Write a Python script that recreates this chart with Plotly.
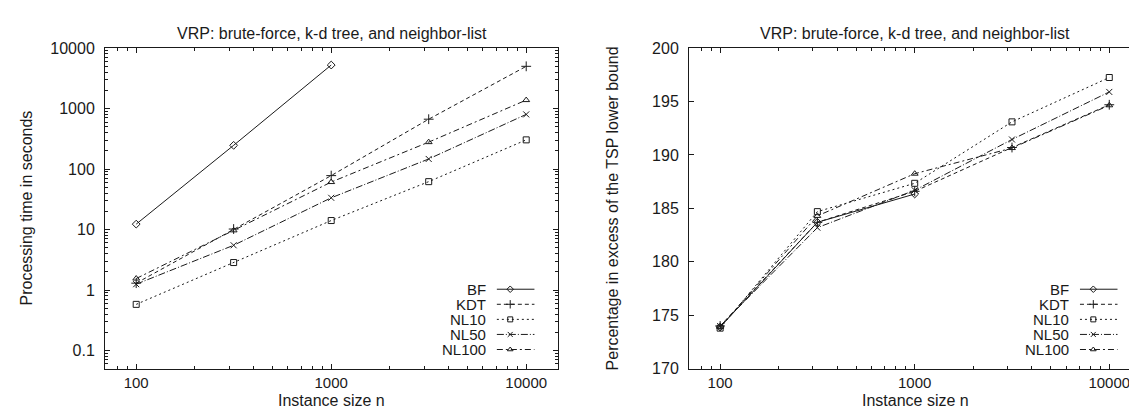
import plotly.graph_objects as go

# ---------------- data ----------------
sizes = [100, 316, 1000, 3162, 10000]
bf_sizes = [100, 316, 1000]

series_names = ["BF", "KDT", "NL10", "NL50", "NL100"]

# processing time (seconds)
time_bf = [12.3, 247, 5250]
time_kdt = [1.3, 10.2, 78, 668, 5000]
time_nl10 = [0.58, 2.85, 14.1, 62, 304]
time_nl50 = [1.25, 5.5, 33.5, 147, 802]
time_nl100 = [1.55, 9.7, 61, 279, 1383]

# percentage in excess of TSP lower bound
pct_bf = [173.9, 183.7, 186.35]
pct_kdt = [174.0, 183.7, 186.6, 190.7, 194.7]
pct_nl10 = [173.8, 184.7, 187.35, 193.1, 197.25]
pct_nl50 = [174.0, 183.2, 186.7, 191.45, 195.9]
pct_nl100 = [173.9, 184.3, 188.25, 190.65, 194.65]

x_tick_vals = [100, 1000, 10000]
x_tick_text = ["100", "1000", "10000"]
y1_tick_vals = [0.1, 1, 10, 100, 1000, 10000]
y1_tick_text = ["0.1", "1", "10", "100", "1000", "10000"]
y2_tick_vals = [170, 175, 180, 185, 190, 195, 200]
y2_tick_text = ["170", "175", "180", "185", "190", "195", "200"]

title_text = "VRP: brute-force, k-d tree, and neighbor-list"
xlabel = "Instance size n"
ylabel1 = "Processing time in seconds"
ylabel2 = "Percentage in excess of the TSP lower bound"

# ---------------- styles ----------------
FONT = "Liberation Sans, Arial, Helvetica, sans-serif"
INK = "#1a1a1a"
styles = {
    "BF": dict(dash="solid", symbol="diamond-open", size=6),
    "KDT": dict(dash="4px,3px", symbol="cross-thin-open", size=7),
    "NL10": dict(dash="2px,3px", symbol="square-open", size=6),
    "NL50": dict(dash="7px,2px,1px,2px", symbol="x-thin-open", size=6),
    "NL100": dict(dash="6px,3px,2px,3px", symbol="triangle-up-open", size=6),
}

left_data = {
    "BF": (bf_sizes, time_bf),
    "KDT": (sizes, time_kdt),
    "NL10": (sizes, time_nl10),
    "NL50": (sizes, time_nl50),
    "NL100": (sizes, time_nl100),
}
right_data = {
    "BF": (bf_sizes, pct_bf),
    "KDT": (sizes, pct_kdt),
    "NL10": (sizes, pct_nl10),
    "NL50": (sizes, pct_nl50),
    "NL100": (sizes, pct_nl100),
}

fig = go.Figure()


def add_series(data, xa, ya):
    for name in series_names:
        xs, ys = data[name]
        st = styles[name]
        fig.add_trace(go.Scatter(
            x=xs, y=ys, mode="lines+markers", name=name, showlegend=False,
            xaxis=xa, yaxis=ya,
            line=dict(color=INK, width=1, dash=st["dash"]),
            marker=dict(symbol=st["symbol"], size=st["size"], color=INK,
                        line=dict(color=INK, width=1)),
        ))


add_series(left_data, "x", "y")
add_series(right_data, "x2", "y2")

# ---------------- custom legends (gnuplot-style: text then sample) ----------------
leg_rows = [0.248, 0.201, 0.154, 0.107, 0.060]
leg_text_x = 0.845
leg_x0, leg_x1 = 0.865, 0.948
annotations = []
for xa, ya, xd in (("x3", "y3", "x domain"), ("x4", "y4", "x2 domain")):
    yd = "y domain" if xd == "x domain" else "y2 domain"
    for name, ry in zip(series_names, leg_rows):
        st = styles[name]
        fig.add_trace(go.Scatter(
            x=[leg_x0, leg_x1], y=[ry, ry], mode="lines", showlegend=False,
            xaxis=xa, yaxis=ya, hoverinfo="skip",
            line=dict(color=INK, width=1, dash=st["dash"]),
        ))
        fig.add_trace(go.Scatter(
            x=[(leg_x0 + leg_x1) / 2 - 0.012], y=[ry], mode="markers", showlegend=False,
            xaxis=xa, yaxis=ya, hoverinfo="skip",
            marker=dict(symbol=st["symbol"], size=st["size"] - 1, color=INK,
                        line=dict(color=INK, width=1)),
        ))
        annotations.append(dict(
            text=name, x=leg_text_x, y=ry, xref=xd, yref=yd,
            xanchor="right", yanchor="middle", showarrow=False,
            font=dict(family=FONT, size=15, color=INK),
        ))

# ---------------- layout ----------------
W, H = 1137, 410
L1, R1 = 97 / W, 550 / W
L2, R2 = 681 / W, 1133 / W
B, T = 1 - 368 / H, 1 - 33.5 / H

minor_log = [m * 10 ** k for k in range(-2, 5) for m in range(2, 10)]

common = dict(showline=True, linecolor=INK, linewidth=1, mirror="ticks",
              ticks="inside", ticklen=5, tickcolor=INK, tickwidth=1,
              showgrid=False, zeroline=False)
xfont = dict(family=FONT, size=15, color=INK)
yfont = dict(family=FONT, size=16, color=INK)
minor_ticks = dict(tickmode="array", tickvals=minor_log, ticks="inside",
                   ticklen=3, tickcolor=INK, showgrid=False)

x_range = [1.840, 4.163]

fig.update_layout(
    width=W, height=H, margin=dict(l=0, r=0, t=0, b=0),
    paper_bgcolor="white", plot_bgcolor="white",
    showlegend=False,
    xaxis=dict(domain=[L1, R1], anchor="y", type="log", range=x_range,
               tickmode="array", tickvals=x_tick_vals, ticktext=x_tick_text,
               minor=minor_ticks, tickfont=xfont, ticklabelstandoff=0, **common),
    yaxis=dict(domain=[B, T], anchor="x", type="log", range=[-1.301, 4.0],
               tickmode="array", tickvals=y1_tick_vals, ticktext=y1_tick_text,
               minor=minor_ticks, tickfont=yfont, ticklabelstandoff=6, **common),
    xaxis2=dict(domain=[L2, R2], anchor="y2", type="log", range=x_range,
                tickmode="array", tickvals=x_tick_vals, ticktext=x_tick_text,
                minor=minor_ticks, tickfont=xfont, ticklabelstandoff=0, **common),
    yaxis2=dict(domain=[B, T], anchor="x2", range=[170, 200],
                tickmode="array", tickvals=y2_tick_vals, ticktext=y2_tick_text,
                tickfont=yfont, ticklabelstandoff=6, **common),
    xaxis3=dict(domain=[L1, R1], anchor="y3", overlaying="x", range=[0, 1], visible=False),
    yaxis3=dict(domain=[B, T], anchor="x3", overlaying="y", range=[0, 1], visible=False),
    xaxis4=dict(domain=[L2, R2], anchor="y4", overlaying="x2", range=[0, 1], visible=False),
    yaxis4=dict(domain=[B, T], anchor="x4", overlaying="y2", range=[0, 1], visible=False),
)

txtfont = dict(family=FONT, size=16, color=INK)
for (l, r) in ((L1, R1), (L2, R2)):
    annotations.append(dict(text=title_text, x=(l + r) / 2, y=1 - 18 / H, xref="paper", yref="paper",
                            xanchor="center", yanchor="middle", showarrow=False, font=txtfont))
    annotations.append(dict(text=xlabel, x=(l + r) / 2, y=1 - 401 / H, xref="paper", yref="paper",
                            xanchor="center", yanchor="middle", showarrow=False, font=txtfont))
annotations.append(dict(text=ylabel1, x=18 / W, y=(B + T) / 2, xref="paper", yref="paper",
                        xanchor="center", yanchor="middle", textangle=-90, showarrow=False, font=txtfont))
annotations.append(dict(text=ylabel2, x=604 / W, y=(B + T) / 2, xref="paper", yref="paper",
                        xanchor="center", yanchor="middle", textangle=-90, showarrow=False, font=txtfont))

fig.update_layout(annotations=annotations)
fig.write_html("out.html")
